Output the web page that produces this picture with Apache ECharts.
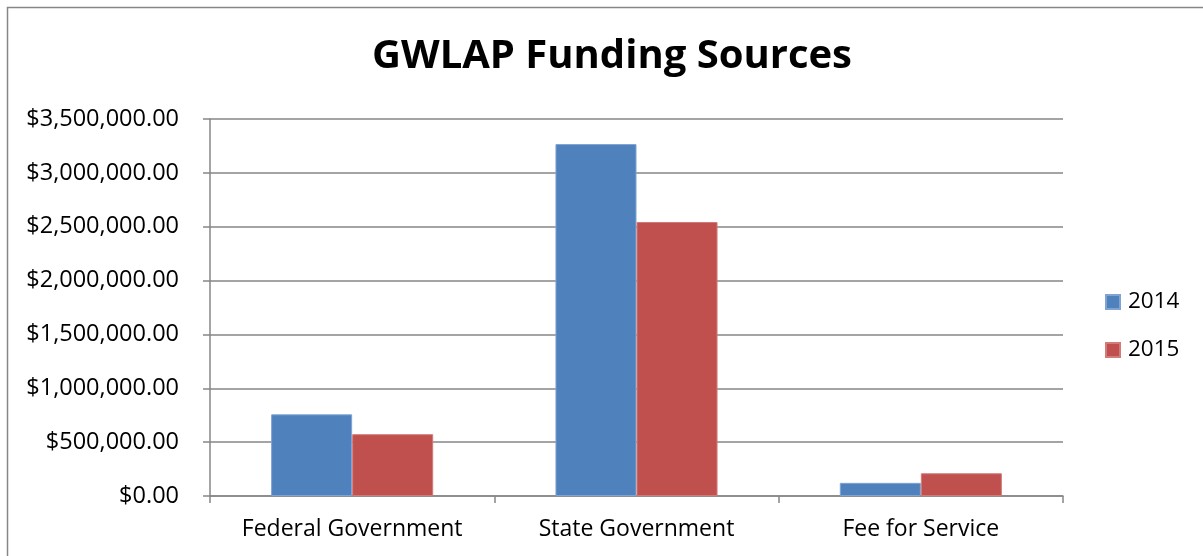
<!DOCTYPE html>
<html>
<head>
<meta charset="utf-8">
<script src="https://cdn.jsdelivr.net/npm/echarts@6/dist/echarts.min.js"></script>
<style>
html,body{margin:0;padding:0;background:#fff;}
#c{width:1203px;height:556px;}
</style>
</head>
<body>
<div id="c"></div>
<script>
const categories = ['Federal Government', 'State Government', 'Fee for Service'];
const values2014 = [758000, 3267000, 122000];
const values2015 = [574000, 2544000, 211000];
const seriesNames = ['2014', '2015'];
const yTicks = { min: 0, max: 3500000, interval: 500000 };

const FONT = 'Open Sans';
const chart = echarts.init(document.getElementById('c'), null, { renderer: 'canvas' });

function money(v) {
  return '$' + Number(v).toLocaleString('en-US', { minimumFractionDigits: 2, maximumFractionDigits: 2 });
}

chart.setOption({
  animation: false,
  backgroundColor: '#ffffff',
  title: {
    text: 'GWLAP Funding Sources',
    left: 607, top: 32, textAlign: 'center',
    textStyle: { fontFamily: FONT, fontWeight: 'bold', fontSize: 40, color: '#000' }
  },
  graphic: [{
    type: 'rect',
    shape: { x: 7.5, y: 7.5, width: 1210, height: 560 },
    style: { fill: 'none', stroke: '#878787', lineWidth: 1.5 },
    silent: true
  }],
  legend: {
    orient: 'vertical',
    left: 1100, top: 285,
    itemWidth: 14, itemHeight: 14, itemGap: 24,
    icon: 'rect',
    textStyle: { fontFamily: FONT, fontSize: 22.5, lineHeight: 24, color: '#000', padding: [0, 0, 0, 3] },
    data: seriesNames
  },
  grid: { left: 210, right: 140, top: 119, bottom: 60, containLabel: false },
  xAxis: {
    type: 'category',
    data: categories,
    axisLine: { lineStyle: { color: '#868686', width: 1.5 } },
    axisTick: { show: true, length: 7, inside: false, lineStyle: { color: '#868686', width: 1.5 } },
    axisLabel: { interval: 0, hideOverlap: false, fontFamily: FONT, fontSize: 23, color: '#000', margin: 22 }
  },
  yAxis: {
    type: 'value',
    min: yTicks.min, max: yTicks.max, interval: yTicks.interval,
    axisLine: { show: true, lineStyle: { color: '#868686', width: 1.5 } },
    axisTick: { show: true, length: 7, lineStyle: { color: '#868686', width: 1.5 } },
    splitLine: { lineStyle: { color: '#868686', width: 1.5 } },
    axisLabel: { fontFamily: FONT, fontSize: 23.5, color: '#000', margin: 31, formatter: money }
  },
  series: [
    { name: seriesNames[0], type: 'bar', data: values2014, barGap: '0%', barCategoryGap: '43%',
      itemStyle: { color: '#4f81bd', borderColor: '#7fa3d3', borderWidth: 1 } },
    { name: seriesNames[1], type: 'bar', data: values2015, barGap: '0%', barCategoryGap: '43%',
      itemStyle: { color: '#c0504d', borderColor: '#d27b79', borderWidth: 1 } }
  ]
});
</script>
</body>
</html>
